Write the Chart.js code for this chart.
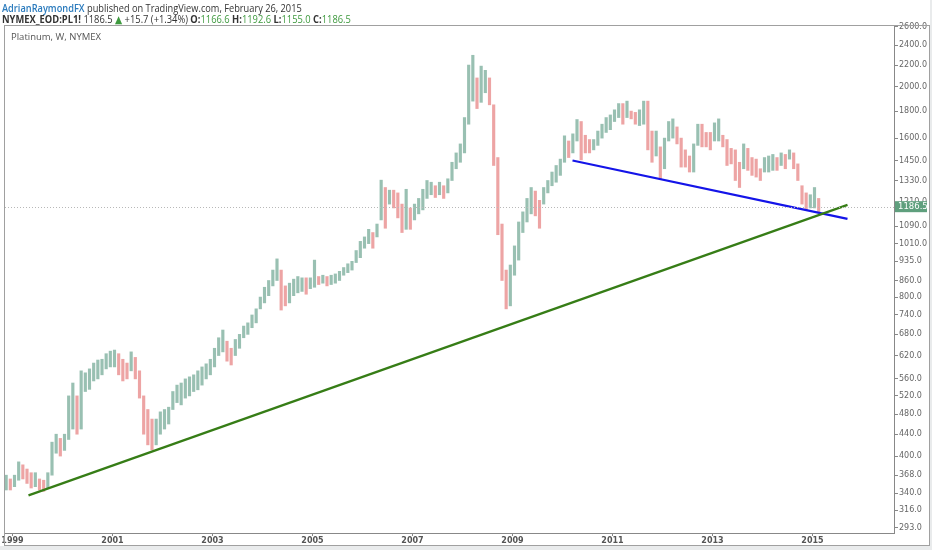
<!DOCTYPE html>
<html><head><meta charset="utf-8">
<script src="https://cdn.jsdelivr.net/npm/chart.js@4.4.0/dist/chart.umd.min.js"></script>
<style>
html,body{margin:0;padding:0;background:#fff;}
#wrap{position:relative;width:932px;height:550px;overflow:hidden;background:#fff;font-family:"Open Sans","DejaVu Sans",sans-serif;}
#c{position:absolute;left:0;top:0;}
.hd{position:absolute;left:2px;white-space:nowrap;color:#333;transform-origin:0 0;}
#l1{top:0px;font-size:11px;transform:scaleX(0.84);}
#l2{top:12px;font-size:10.5px;transform:scaleX(0.89);}
.au{color:#2b7bbd;font-weight:600;}
.g{color:#3f9a3f;}
.b{font-weight:700;}
#sym{position:absolute;left:11px;top:30px;font-size:9.5px;color:#555;white-space:nowrap;}
</style></head>
<body><div id="wrap">
<canvas id="c" width="932" height="550"></canvas>
<div class="hd" id="l1"><span class="au">AdrianRaymondFX</span> published on TradingView.com, February 26, 2015</div>
<div class="hd" id="l2"><span class="b">NYMEX_EOD:PL1!</span> 1186.5 <span class="g">&#9650;</span> +15.7 (+1.34%) <span class="b">O:</span><span class="g">1166.6</span> <span class="b">H:</span><span class="g">1192.6</span> <span class="b">L:</span><span class="g">1155.0</span> <span class="b">C:</span><span class="g">1186.5</span></div>
<div id="sym">Platinum, W, NYMEX</div>
</div>
<script>
// Monthly ranges, first bar = November 1998
const firstYear = 1998, firstMonth = 11;
const lows = [
345,345,350,360,362,355,348,350,345,343,348,
368,405,400,410,430,450,440,450,530,535,
555,560,570,585,590,590,570,555,560,580,
560,515,440,420,411,420,440,450,460,490,
505,500,515,520,530,534,545,560,570,590,
620,630,605,595,620,640,670,680,700,715,
760,780,805,840,860,756,770,780,805,815,
820,810,830,835,845,850,840,845,850,860,
880,890,900,930,950,990,1010,990,1040,1120,
1080,1200,1180,1130,1060,1075,1075,1120,1150,1170,
1230,1250,1235,1250,1230,1260,1330,1400,1440,1500,
1700,1880,1820,1870,1950,1850,1420,1050,860,760,
770,880,940,1060,1110,1150,1140,1080,1200,1260,
1300,1320,1360,1440,1470,1500,1580,1455,1500,1500,
1520,1550,1600,1640,1660,1720,1750,1700,1750,1740,
1700,1690,1700,1520,1440,1480,1340,1400,1580,1600,
1560,1410,1410,1380,1380,1550,1540,1540,1520,1580,
1580,1540,1420,1430,1330,1290,1400,1390,1360,1350,
1330,1380,1380,1390,1390,1420,1400,1460,1400,1330,
1200,1170,1180,1180,1155];
const highs = [
368,362,368,390,385,378,372,372,362,360,372,
425,440,432,440,520,550,520,580,575,585,
600,608,610,625,632,635,625,610,600,630,
615,580,520,490,470,470,485,490,495,530,
545,550,560,565,570,580,590,598,610,640,
670,693,660,640,665,680,705,715,740,760,
800,835,860,900,945,900,840,850,865,875,
870,870,870,940,875,880,875,880,885,895,
910,925,935,980,1020,1040,1075,1060,1100,1332,
1290,1275,1275,1260,1200,1280,1180,1200,1230,1280,
1330,1320,1300,1320,1300,1340,1440,1500,1560,1750,
2200,2296,2080,2190,2150,2080,1850,1470,1100,900,
920,1000,1110,1160,1230,1290,1270,1220,1290,1330,
1380,1420,1460,1616,1580,1630,1735,1720,1620,1590,
1590,1650,1700,1750,1770,1810,1860,1860,1880,1800,
1790,1810,1880,1880,1650,1650,1540,1600,1720,1740,
1680,1600,1520,1480,1560,1700,1700,1640,1640,1710,
1740,1620,1590,1530,1520,1440,1560,1530,1470,1460,
1400,1470,1480,1490,1470,1500,1490,1520,1500,1430,
1300,1260,1250,1290,1230];
const lastClose = 1186.5;
const greenTrend = [{x:1999.32, y:337}, {x:2015.70, y:1196}];
const blueTrend = [{x:2010.20, y:1451}, {x:2015.70, y:1125}];
const yTicks = [293,316,340,368,400,440,480,520,560,620,680,740,800,860,935,1010,1090,1210,1330,1450,1600,1800,2000,2200,2400,2600];
const xYears = [1999,2001,2003,2005,2007,2009,2011,2013,2015];

const barData = lows.map((lo,i)=>({x: firstYear + (firstMonth - 1 + i)/12 + 0.04, y:[lo, highs[i]]}));
const UP = 'rgba(110,165,145,0.7)', DOWN = 'rgba(230,125,125,0.7)';
const barColors = lows.map((lo,i)=>{
  if(i===0) return UP;
  const m = (lo+highs[i])/2, p = (lows[i-1]+highs[i-1])/2;
  return m >= p ? UP : DOWN;
});

const framePlugin = {
  id:'frame',
  beforeDraw(chart){
    const ctx = chart.ctx;
    ctx.save();
    ctx.fillStyle = '#e9ebec';
    ctx.fillRect(930,0,2,550);
    ctx.fillRect(0,546,932,4);
    ctx.restore();
  },
  afterDatasetsDraw(chart){
    const ctx = chart.ctx, a = chart.chartArea, ys = chart.scales.y;
    const yp = Math.round(ys.getPixelForValue(lastClose)) + 0.5;
    ctx.save();
    ctx.strokeStyle = '#b8b8b8'; ctx.lineWidth = 1; ctx.setLineDash([1,2]);
    ctx.beginPath(); ctx.moveTo(a.left, yp); ctx.lineTo(a.right, yp); ctx.stroke();
    ctx.restore();
  },
  afterDraw(chart){
    const ctx = chart.ctx, a = chart.chartArea, ys = chart.scales.y;
    ctx.save();
    ctx.strokeStyle = '#a0a0a0'; ctx.lineWidth = 1;
    ctx.strokeRect(4.5, 25.5, 925, 520);
    ctx.beginPath(); ctx.moveTo(4.5, a.top); ctx.lineTo(4.5, a.bottom); ctx.stroke();
    const yp = ys.getPixelForValue(lastClose);
    ctx.fillStyle = '#5f9f7d';
    ctx.fillRect(a.right+1, yp-5.5, 32, 11);
    ctx.fillStyle = '#fff'; ctx.font = '8.5px "DejaVu Sans"'; ctx.textBaseline = 'middle';
    ctx.fillText(lastClose.toFixed(1), a.right+4, yp+0.5);
    ctx.restore();
  }
};

new Chart(document.getElementById('c'), {
  data:{datasets:[
    {type:'bar', data:barData, backgroundColor:barColors, barThickness:2.5, borderWidth:0, grouped:false, order:3},
    {type:'line', data:greenTrend, borderColor:'#367d16', borderWidth:2.2, pointRadius:0, order:1},
    {type:'line', data:blueTrend, borderColor:'#1414e8', borderWidth:2.2, pointRadius:0, order:2}
  ]},
  options:{
    responsive:false, animation:false, devicePixelRatio:1,
    layout:{padding:{left:5, top:25, right:2, bottom:5}},
    plugins:{legend:{display:false}, tooltip:{enabled:false}},
    scales:{
      x:{type:'linear', min:1998.85, max:2016.63, offset:false, bounds:'ticks',
        afterBuildTicks:s=>{s.ticks = xYears.map(v=>({value:v}));},
        afterDataLimits:s=>{s.min = 1998.85; s.max = 2016.63;},
        afterFit:s=>{s.height = 12;},
        grid:{drawOnChartArea:false, tickLength:3, color:'#888', offset:false},
        border:{display:true, color:'#888'},
        ticks:{font:{size:8, weight:'bold', family:'"DejaVu Sans"'}, color:'#555', padding:0, maxRotation:0, autoSkip:false, callback:v=>String(v)}
      },
      y:{type:'logarithmic', position:'right', min:286, max:2620,
        afterBuildTicks:s=>{s.ticks = yTicks.map(v=>({value:v}));},
        afterFit:s=>{s.width = 36;},
        grid:{drawOnChartArea:false, tickLength:4, color:'#888'},
        border:{display:true, color:'#888'},
        ticks:{font:{size:8, family:'"DejaVu Sans"'}, color:'#666', padding:1, autoSkip:false, callback:v=>Number(v).toFixed(1)}
      }
    }
  },
  plugins:[framePlugin]
});
</script>
</body></html>
